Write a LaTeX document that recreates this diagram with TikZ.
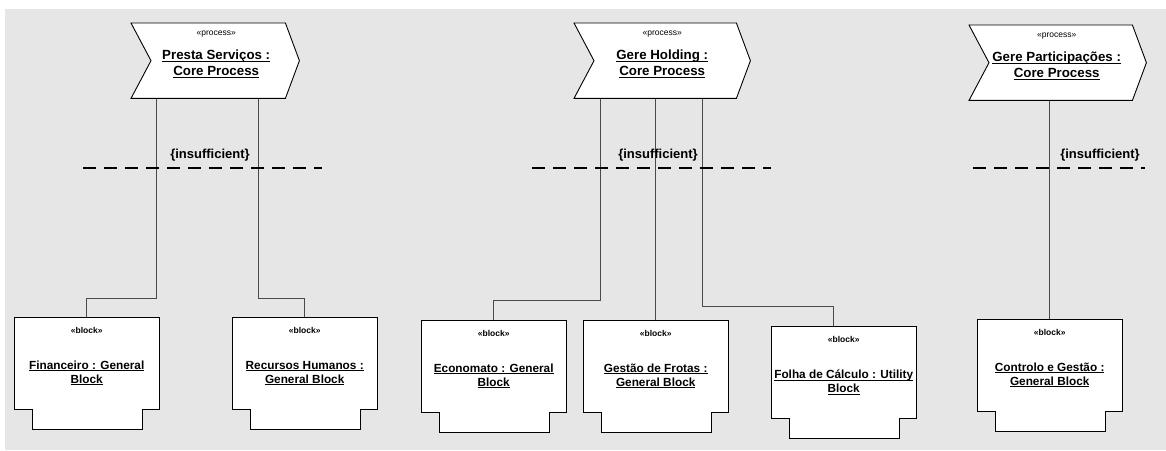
\documentclass[tikz,border=0pt]{standalone}
\usepackage{fontspec}
\setmainfont{Liberation Sans}
\usetikzlibrary{calc}

\definecolor{canvas}{HTML}{E6E6E6}
\definecolor{wire}{HTML}{4A4A4A}

% underlined text with a rule at a fixed distance below the baseline
\newcommand\ulin[1]{\setbox0\hbox{#1}\rlap{\rule[-2pt]{\wd0}{0.8pt}}\box0}

\tikzset{
  shapeline/.style={draw=black, fill=white, line width=0.9pt, line join=miter},
  procbox/.style={minimum height=75pt, inner sep=0pt, draw=none, anchor=north west},
  blockbox/.style={minimum width=145pt, minimum height=92pt, inner sep=0pt, draw=none, anchor=north west},
  pstereo/.style={inner sep=0pt, font=\fontsize{8.5}{10}\selectfont},
  ptitle/.style={inner sep=0pt, align=center, font=\bfseries\fontsize{13.3}{16}\selectfont},
  bstereo/.style={inner sep=0pt, font=\bfseries\fontsize{8.5}{10}\selectfont},
  bname/.style={inner sep=0pt, align=center, font=\bfseries\fontsize{11.8}{14}\selectfont},
  constraint/.style={inner sep=0pt, font=\bfseries\fontsize{13}{15}\selectfont},
  conn/.style={draw=wire, line width=0.9pt},
  limitline/.style={draw=black, line width=1.5pt, dash pattern=on 13pt off 8pt},
}

% chevron outline of a process node
\newcommand\processoutline[1]{%
  \path[shapeline] (#1.north west) -- (#1.north east) -- ([xshift=14pt]#1.east)
    -- (#1.south east) -- (#1.south west) -- ([xshift=20pt]#1.west) -- cycle;}
% block outline with its foot
\newcommand\blockoutline[1]{%
  \path[shapeline] (#1.north west) -- (#1.north east) -- (#1.south east)
    -- ([xshift=-17pt]#1.south east) -- ([xshift=-17pt,yshift=-20.5pt]#1.south east)
    -- ([xshift=18pt,yshift=-20.5pt]#1.south west) -- ([xshift=18pt]#1.south west)
    -- (#1.south west) -- cycle;}

\begin{document}
\begin{tikzpicture}[x=1pt, y=-1pt]
  \useasboundingbox (0,0) rectangle (1166,450);
  \fill[canvas] (5,9) rectangle (1166,450);

  % process nodes
  \node[procbox, minimum width=154pt] (c1) at (131,23) {};
  \node[procbox, minimum width=162pt] (c2) at (574,23) {};
  \node[procbox, minimum width=163pt] (c3) at (969,25) {};

  % block nodes
  \node[blockbox] (b1) at (14,317) {};
  \node[blockbox] (b2) at (232,317) {};
  \node[blockbox] (b3) at (421,320) {};
  \node[blockbox] (b4) at (583,320) {};
  \node[blockbox] (b5) at (771,326) {};
  \node[blockbox] (b6) at (977,319) {};

  % connectors
  \draw[conn] ([xshift=25pt]c1.south west) |- ([yshift=19pt]b1.north) -- (b1.north);
  \draw[conn] ([xshift=127pt]c1.south west) |- ([yshift=19pt]b2.north) -- (b2.north);
  \draw[conn] ([xshift=26pt]c2.south west) |- ([yshift=20pt]b3.north) -- (b3.north);
  \draw[conn] (b4.north |- c2.south) -- (b4.north);
  \draw[conn] ([xshift=128pt]c2.south west) |- ([xshift=-10pt,yshift=20pt]b5.north) -- ([xshift=-10pt]b5.north);
  \draw[conn] (b6.north |- c3.south) -- (b6.north);

  % insufficiency boundaries
  \draw[limitline] (83,168) -- (322,168);
  \draw[limitline] (532,168) -- (771,168);
  \draw[limitline] (973,168) -- (1145,168);
  \node[constraint] (k1) at (210,155) {\{insufficient\}};
  \node[constraint] (k2) at (658,155) {\{insufficient\}};
  \node[constraint] (k3) at (1100,155) {\{insufficient\}};

  % outlines
  \processoutline{c1}
  \processoutline{c2}
  \processoutline{c3}
  \foreach \b in {b1,b2,b3,b4,b5,b6} {\blockoutline{\b}}

  % process texts
  \node[pstereo] (c1s) at ($(c1.north)+(8,11)$) {«process»};
  \node[ptitle]  (c1t) at ($(c1.north)+(8,41)$) {\ulin{Presta Serviços :}\\\ulin{Core Process}};
  \node[pstereo] (c2s) at ($(c2.north)+(7,11)$) {«process»};
  \node[ptitle]  (c2t) at ($(c2.north)+(7,41)$) {\ulin{Gere Holding :}\\\ulin{Core Process}};
  \node[pstereo] (c3s) at ($(c3.north)+(6,11)$) {«process»};
  \node[ptitle]  (c3t) at ($(c3.north)+(6,41)$) {\ulin{Gere Participações :}\\\ulin{Core Process}};

  % block texts
  \node[bstereo] (b1s) at ($(b1.north)+(0,13)$) {«block»};
  \node[bname]   (b1n) at ($(b1.north)+(0,56)$) {\ulin{Financeiro : General}\\\ulin{Block}};
  \node[bstereo] (b2s) at ($(b2.north)+(0,13)$) {«block»};
  \node[bname]   (b2n) at ($(b2.north)+(0,56)$) {\ulin{Recursos Humanos :}\\\ulin{General Block}};
  \node[bstereo] (b3s) at ($(b3.north)+(0,13)$) {«block»};
  \node[bname]   (b3n) at ($(b3.north)+(0,56)$) {\ulin{Economato : General}\\\ulin{Block}};
  \node[bstereo] (b4s) at ($(b4.north)+(0,13)$) {«block»};
  \node[bname]   (b4n) at ($(b4.north)+(0,56)$) {\ulin{Gestão de Frotas :}\\\ulin{General Block}};
  \node[bstereo] (b5s) at ($(b5.north)+(0,13)$) {«block»};
  \node[bname]   (b5n) at ($(b5.north)+(0,56)$) {\ulin{Folha de Cálculo : Utility}\\\ulin{Block}};
  \node[bstereo] (b6s) at ($(b6.north)+(0,13)$) {«block»};
  \node[bname]   (b6n) at ($(b6.north)+(0,56)$) {\ulin{Controlo e Gestão :}\\\ulin{General Block}};
\end{tikzpicture}
\end{document}
